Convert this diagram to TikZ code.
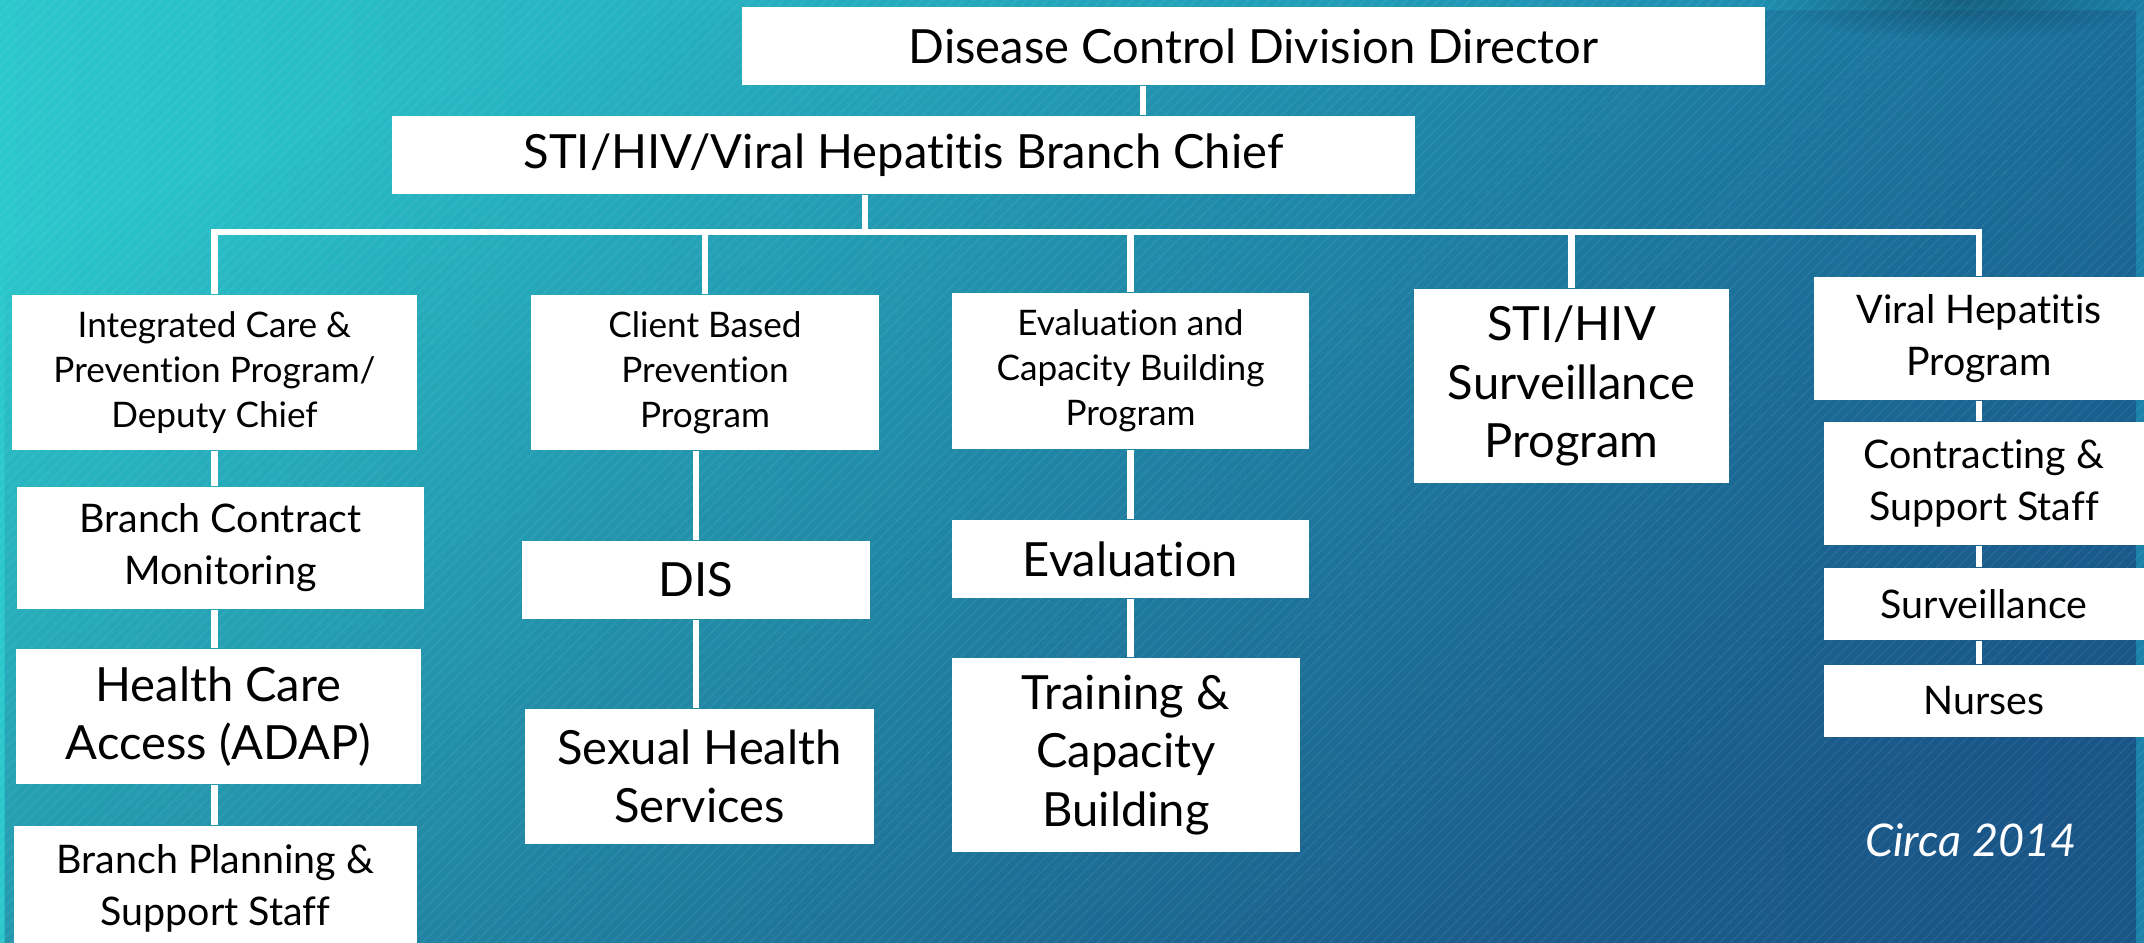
\documentclass[tikz,border=0pt]{standalone}
\usepackage{fontspec}
\setmainfont{Lato}[Ligatures={NoCommon,NoContextual}]
\usepackage{tikz}
\usetikzlibrary{positioning, calc, fadings, patterns}

\definecolor{Teal}{HTML}{2BC8CC}
\definecolor{MidBlue}{HTML}{21ACC5}
\definecolor{RightBlue}{HTML}{1C82AA}
\definecolor{DeepBlue}{HTML}{17346E}
\definecolor{Shadow}{HTML}{0E3F5A}

\tikzfading[name=darkcorner, top color=transparent!100,
  middle color=transparent!100, bottom color=transparent!42]
\tikzfading[name=glow, inner color=transparent!45, outer color=transparent!100]

\tikzstyle{Unit} = [fill=white, inner sep=0pt, align=center, text=black]
\tikzstyle{Small} = [Unit, font=\fontsize{10}{12.8}\selectfont]
\tikzstyle{Mid} = [Unit, font=\fontsize{11.2}{14.8}\selectfont]
\tikzstyle{Big} = [Unit, font=\fontsize{13.4}{16.6}\selectfont]
\tikzstyle{Link} = [draw=white, line width=0.065cm]

\begin{document}
\begin{tikzpicture}[x=0.01cm, y=-0.01cm]
    \useasboundingbox (0,0) rectangle (2144,943);
    \clip (0,0) rectangle (2144,943);
    % background
    \shade[left color=Teal, middle color=MidBlue, right color=RightBlue] (0,0) rectangle (2144,943);
    \fill[DeepBlue, path fading=darkcorner, fading angle=40] (0,0) rectangle (2144,943);
    \fill[Shadow, path fading=glow] (1960,0) ellipse [x radius=2cm, y radius=0.4cm];
    \fill[pattern=north east lines, pattern color=white, opacity=0.06] (0,0) rectangle (2144,943);

    \node[Big, minimum width=10.23cm, minimum height=0.78cm] (dir) at (1253.5,46) {Disease Control Division Director};
    \node[Big, minimum width=10.23cm, minimum height=0.78cm] (chief) at (903.5,155) {STI/HIV/Viral Hepatitis Branch Chief};

    \node[Small, minimum width=4.05cm, minimum height=1.55cm] (icp) at (214.5,372.5) {Integrated Care \&\\Prevention Program/\\Deputy Chief};
    \node[Small, minimum width=3.48cm, minimum height=1.55cm] (cbp) at (705,372.5) {Client Based\\Prevention\\Program};
    \node[Small, minimum width=3.57cm, minimum height=1.56cm] (ecb) at (1130.5,371) {Evaluation and\\Capacity Building\\Program};
    \node[Big, minimum width=3.15cm, minimum height=1.94cm] (surv) at (1571.5,386) {STI/HIV\\Surveillance\\Program};
    \node[Mid, minimum width=3.30cm, minimum height=1.23cm] (vhp) at (1979,338.5) {Viral Hepatitis\\Program};

    \node[Mid, minimum width=4.07cm, minimum height=1.22cm] (bcm) at (220.5,548) {Branch Contract\\Monitoring};
    \node[Big, minimum width=4.05cm, minimum height=1.35cm] (hca) at (218.5,716.5) {Health Care\\Access (ADAP)};
    \node[Mid, minimum width=4.03cm, minimum height=1.24cm] (bps) at (215.5,888) {Branch Planning \&\\Support Staff};

    \node[Big, minimum width=3.48cm, minimum height=0.78cm] (dis) at (696,580) {DIS};
    \node[Big, minimum width=3.49cm, minimum height=1.35cm] (shs) at (699.5,776.5) {Sexual Health\\Services};

    \node[Big, minimum width=3.57cm, minimum height=0.78cm] (eval) at (1130.5,559) {Evaluation};
    \node[Big, minimum width=3.48cm, minimum height=1.94cm] (tcb) at (1126,755) {Training \&\\Capacity\\Building};

    \node[Mid, minimum width=3.20cm, minimum height=1.23cm] (csf) at (1984,483.5) {Contracting \&\\Support Staff};
    \node[Mid, minimum width=3.20cm, minimum height=0.72cm] (vsur) at (1984,604) {Surveillance};
    \node[Mid, minimum width=3.20cm, minimum height=0.72cm] (nur) at (1984,701) {Nurses};

    \node[text=white, font=\fontsize{12.8}{15}\selectfont\itshape] (circa) at (1971,840) {Circa 2014};

    \coordinate (top) at (1143,0);
    \coordinate (mid) at (865,0);
    \coordinate (bus) at (0,232);

    \draw[Link] (dir.south -| top) -- (chief.north -| top);
    \draw[Link] (chief.south -| mid) -- (mid |- bus);
    \draw[Link] (icp.north) -- (icp.north |- bus) -| (vhp.north);
    \foreach \n in {cbp, ecb, surv}
        \draw[Link] (\n.north) -- (\n.north |- bus);

    \draw[Link] (icp) -- (icp |- bcm.north);
    \draw[Link] (icp |- bcm.south) -- (icp |- hca.north);
    \draw[Link] (icp |- hca.south) -- (icp |- bps.north);
    \draw[Link] (dis) -- (dis |- cbp.south);
    \draw[Link] (dis) -- (dis |- shs.north);
    \draw[Link] (ecb) -- (ecb |- eval.north);
    \draw[Link] (eval) -- (eval |- tcb.north);
    \draw[Link] (vhp) -- (vhp |- csf.north);
    \draw[Link] (vhp |- csf.south) -- (vhp |- vsur.north);
    \draw[Link] (vhp |- vsur.south) -- (vhp |- nur.north);
\end{tikzpicture}
\end{document}
